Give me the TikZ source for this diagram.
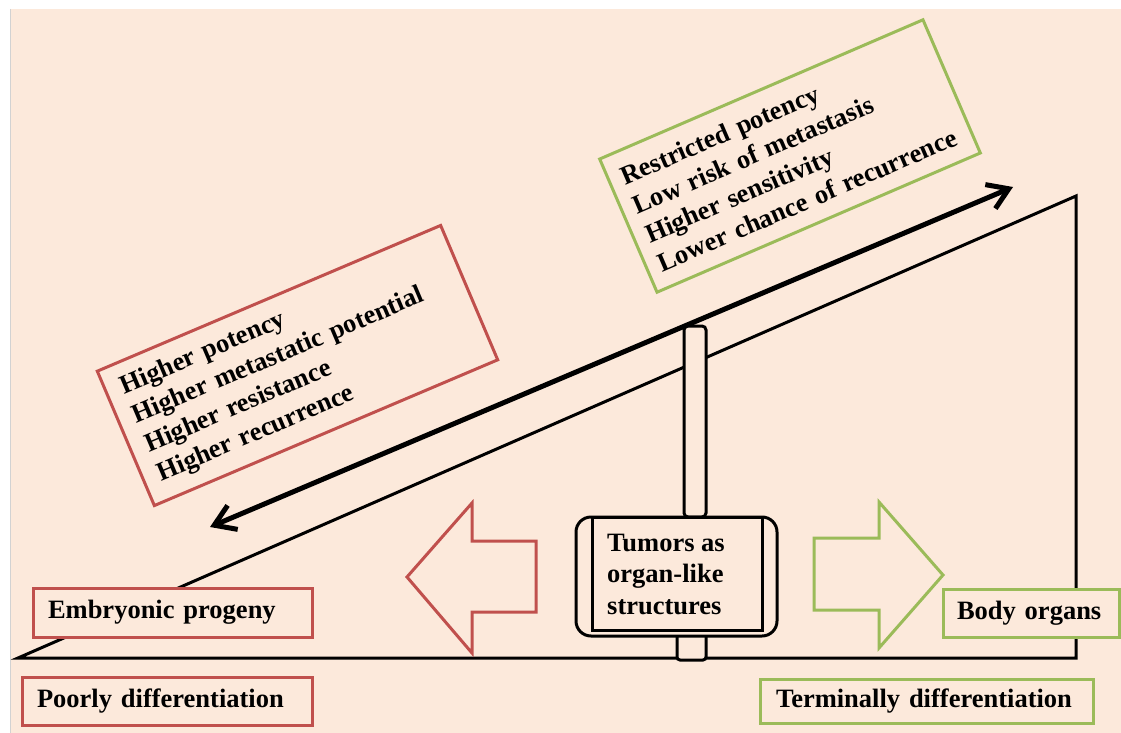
\documentclass[tikz,border=0pt]{standalone}
\usepackage{fontspec}
\setmainfont{Liberation Serif}
\usetikzlibrary{arrows.meta}
\definecolor{bg}{HTML}{FCE9DB}
\definecolor{cred}{HTML}{C0504D}
\definecolor{cgreen}{HTML}{9BBB59}
\begin{document}
\begin{tikzpicture}[x=1pt,y=-1pt,
  txt/.style={font=\fontsize{26.5}{31.5}\selectfont\bfseries},
  redbox/.style={draw=cred, line width=3pt, fill=bg, txt, align=left, inner ysep=0pt},
  greenbox/.style={draw=cgreen, line width=3pt, fill=bg, txt, align=left, inner ysep=0pt},
  bline/.style={line width=3pt, line join=miter},
  barb/.style={line width=5pt, {Straight Barb[length=20pt,width=26pt]}-{Straight Barb[length=20pt,width=26pt]}},
  bigarrow/.style={line width=3pt, line join=miter, fill=bg}]
\useasboundingbox (0,0) rectangle (1121,733);
\fill[bg] (11,9) rectangle (1121,733);
\draw[gray!35, line width=1.5pt] (10.5,9) -- (10.5,733);

% triangle
\coordinate (tA) at (18,658);
\coordinate (tB) at (1076,658);
\coordinate (tC) at (1076,196);
\draw[bline] (tA) -- (tB) -- (tC) -- cycle;

% pillar and tumor box
\draw[line width=3pt, fill=bg, rounded corners=4pt] (684,517) rectangle (706,326);
\draw[line width=3pt, fill=bg, rounded corners=3pt] (677,630) rectangle (706,660);
\draw[line width=3pt, fill=bg, rounded corners=15pt] (576,517) rectangle (777,636);
\draw[line width=3pt] (592,517) rectangle (762,630);
\node[txt, align=left, inner sep=0pt, anchor=west] (tum) at (607,574) {Tumors as\\organ-like\\structures};

% big block arrows
\draw[bigarrow, draw=cred] (407,577) -- (472,503) -- (472,541) -- (536,541) -- (536,612) -- (472,612) -- (472,653) -- cycle;
\draw[bigarrow, draw=cgreen] (943,575) -- (879,502) -- (879,538) -- (814,538) -- (814,610) -- (879,610) -- (879,648) -- cycle;

% label boxes
\node[redbox, text width=249pt, inner xsep=15pt, minimum height=49pt] (emb) at (172.5,612.5) {Embryonic progeny};
\node[redbox, text width=260pt, inner xsep=15pt, minimum height=48pt] (poor) at (167,701) {Poorly differentiation};
\node[greenbox, text width=148pt, inner xsep=14pt, minimum height=48pt] (body) at (1031,613) {Body organs};
\node[greenbox, text width=301pt, inner xsep=16pt, minimum height=44pt] (term) at (926.5,701) {Terminally differentiation};

% rotated lists
\node[redbox, rotate=23, text width=341pt, inner xsep=16pt, minimum height=146pt] (redlist) at (297.5,365.5)
  {Higher potency\\Higher metastatic potential\\Higher resistance\\Higher recurrence};
\node[greenbox, rotate=23.3, text width=326pt, inner xsep=13pt, minimum height=145pt] (greenlist) at (790,156)
  {Restricted potency\\Low risk of metastasis\\Higher sensitivity\\Lower chance of recurrence};

% double arrow
\coordinate (aL) at (210,527);
\coordinate (aR) at (1013,187);
\draw[barb] (aL) -- (aR);
\end{tikzpicture}
\end{document}
